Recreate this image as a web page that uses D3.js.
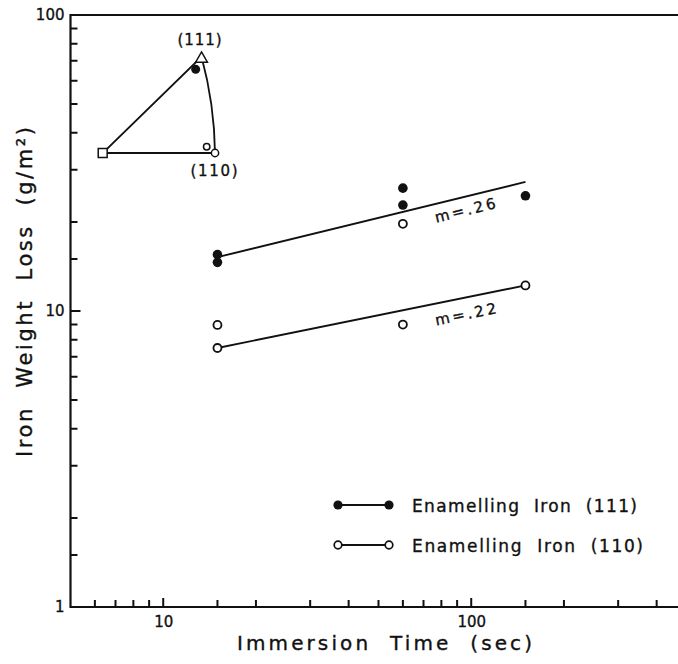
<!DOCTYPE html>
<html>
<head>
<meta charset="utf-8">
<script src="https://cdn.jsdelivr.net/npm/d3@7"></script>
<style>
	body { margin: 0; background: #fff; }
	svg text { font-family: "DejaVu Sans", sans-serif; fill: #111; stroke: #111; stroke-width: 0.35px; white-space: pre; }
</style>
</head>
<body>
<div id="wrapper"></div>
<script>
// Iron weight loss vs immersion time, log-log, two grain orientations

// Data
const times111 = [15, 15, 60, 60, 150]
const loss111 = [15.5, 14.6, 26.0, 22.8, 24.5]
const times110 = [15, 15, 60, 60, 150]
const loss110 = [8.97, 7.5, 19.7, 9.0, 12.2]

const fitTimes = [15, 150]
const fit111 = [15.2, 27.3]
const fit110 = [7.5, 12.2]
const slopeLabels = ["m=.26", "m=.22"]

const xMajorTicks = [10, 100]
const xMinorTicks = [6, 7, 8, 9, 15, 20, 30, 40, 50, 60, 70, 80, 90, 150, 200, 300, 400]
const yMajorTicks = [1, 10, 100]
const yMinorTicks = [1.5, 2, 3, 4, 5, 6, 7, 8, 9, 15, 20, 30, 40, 50, 60, 70, 80, 90]

const legendLabels = ["Enamelling  Iron  (111)", "Enamelling  Iron  (110)"]

// inset: standard triangle, unit coords (u to the right, v up)
const insetNames = ["(100)", "(110)", "(111)"]
const insetU = [0, 1, 0.88]
const insetV = [0, 0, 0.857]
const insetSampleU = [0.828, 0.926]   // (111) sample, (110) sample
const insetSampleV = [0.745, 0.056]
const insetArcCtrl = [0.995, 0.436]

function drawChart() {
	const dimensions = {
		width: 678,
		height: 664,
		margin: { top: 15, left: 70.5, bottom: 57 }
	}
	const decade = 308
	const x0 = dimensions.margin.left
	const yBottom = dimensions.height - dimensions.margin.bottom

	const svg = d3.select("#wrapper")
		.append("svg")
		.attr("width", dimensions.width)
		.attr("height", dimensions.height)

	// Scales
	const xScale = d3.scaleLog()
		.domain([5, 500])
		.range([x0, x0 + 2 * decade])

	const yScale = d3.scaleLog()
		.domain([1, 100])
		.range([yBottom, dimensions.margin.top])

	// Axes: labels from d3 axes, inward ticks drawn from the same scales
	const xAxis = d3.axisBottom(xScale)
		.tickValues(xMajorTicks)
		.tickFormat(d3.format("d"))
		.tickSize(0)
		.tickPadding(9)
	const yAxis = d3.axisLeft(yScale)
		.tickValues(yMajorTicks)
		.tickFormat(d3.format("d"))
		.tickSize(0)
		.tickPadding(6)

	const styleAxis = g => {
		g.select(".domain").remove()
		g.selectAll(".tick text")
			.style("font-family", "DejaVu Sans, sans-serif")
			.style("font-size", "15px")
			.attr("fill", "#111")
	}

	svg.append("g").attr("transform", `translate(0,${yBottom})`).call(xAxis).call(styleAxis)
	svg.append("g").attr("transform", `translate(${x0},0)`).call(yAxis).call(styleAxis)

	// inward tick marks as one path per axis
	const xTickPath = d3.path()
	xMajorTicks.concat(xMinorTicks).forEach(d => {
		xTickPath.moveTo(xScale(d), yBottom)
		xTickPath.lineTo(xScale(d), yBottom - (xMajorTicks.includes(d) ? 9 : 7))
	})
	const yTickPath = d3.path()
	yMajorTicks.concat(yMinorTicks).forEach(d => {
		yTickPath.moveTo(x0, yScale(d))
		yTickPath.lineTo(x0 + (yMajorTicks.includes(d) ? 10 : 7), yScale(d))
	})
	svg.append("path")
		.attr("d", xTickPath.toString() + yTickPath.toString())
		.attr("fill", "none")
		.attr("stroke", "#111")
		.attr("stroke-width", 2)

	// frame lines: bottom, left, top
	const frame = svg.append("g").attr("stroke", "#111").attr("stroke-width", 2.2)
	frame.append("line")
		.attr("x1", x0).attr("x2", xScale(500))
		.attr("y1", yBottom).attr("y2", yBottom)
	frame.append("line")
		.attr("x1", x0).attr("x2", x0)
		.attr("y1", yScale(100) - 1).attr("y2", yBottom + 1)
	frame.append("line")
		.attr("x1", x0).attr("x2", xScale(500))
		.attr("y1", yScale(100)).attr("y2", yScale(100))

	// Axis titles
	svg.append("text")
		.attr("x", 384.5)
		.attr("y", 650)
		.attr("text-anchor", "middle")
		.attr("textLength", 295)
		.attr("lengthAdjust", "spacing")
		.style("font-size", "20px")
		.text("Immersion  Time  (sec)")

	svg.append("text")
		.attr("transform", "translate(32,292) rotate(-90)")
		.attr("text-anchor", "middle")
		.attr("textLength", 330)
		.attr("lengthAdjust", "spacing")
		.style("font-size", "21px")
		.text("Iron  Weight  Loss  (g/m²)")

	// Fit lines
	const lineGen = d3.line()
		.x(d => xScale(d[0]))
		.y(d => yScale(d[1]))

	const fits = [fit111, fit110]
	fits.forEach(f => {
		svg.append("path")
			.datum(d3.zip(fitTimes, f))
			.attr("d", lineGen)
			.attr("fill", "none")
			.attr("stroke", "#111")
			.attr("stroke-width", 1.9)
	})

	// Slope labels, rotated along their lines
	const labelTime = 77
	const labelDrop = [19, 22]
	fits.forEach((f, i) => {
		const px1 = xScale(fitTimes[0]), py1 = yScale(f[0])
		const px2 = xScale(fitTimes[1]), py2 = yScale(f[1])
		const angle = Math.atan2(py2 - py1, px2 - px1) * 180 / Math.PI
		const slope = Math.log10(f[1] / f[0]) / Math.log10(fitTimes[1] / fitTimes[0])
		const yAt = f[0] * Math.pow(labelTime / fitTimes[0], slope)
		svg.append("text")
			.attr("transform", `translate(${xScale(labelTime)},${yScale(yAt) + labelDrop[i]}) rotate(${angle})`)
			.attr("textLength", 62)
			.attr("lengthAdjust", "spacing")
			.style("font-size", "15px")
			.text(slopeLabels[i])
	})

	// Points
	svg.append("g")
		.selectAll("circle")
		.data(d3.zip(times111, loss111))
		.join("circle")
		.attr("cx", d => xScale(d[0]))
		.attr("cy", d => yScale(d[1]))
		.attr("r", 4.8)
		.attr("fill", "#111")

	svg.append("g")
		.selectAll("circle")
		.data(d3.zip(times110, loss110))
		.join("circle")
		.attr("cx", d => xScale(d[0]))
		.attr("cy", d => yScale(d[1]))
		.attr("r", 4)
		.attr("fill", "#fff")
		.attr("stroke", "#111")
		.attr("stroke-width", 1.8)

	// Legend
	const legend = svg.append("g").attr("transform", "translate(338,505)")
	legendLabels.forEach((label, i) => {
		const row = legend.append("g").attr("transform", `translate(0,${i * 40})`)
		row.append("line")
			.attr("x1", 0).attr("x2", 51)
			.attr("stroke", "#111").attr("stroke-width", 1.9)
		row.selectAll("circle")
			.data([0, 51])
			.join("circle")
			.attr("cx", d => d)
			.attr("r", i === 0 ? 4.6 : 3.8)
			.attr("fill", i === 0 ? "#111" : "#fff")
			.attr("stroke", "#111")
			.attr("stroke-width", i === 0 ? 0 : 1.7)
		row.append("text")
			.attr("x", 74)
			.attr("y", 6.5)
			.attr("textLength", i === 0 ? 225 : 231)
			.attr("lengthAdjust", "spacing")
			.style("font-size", "17px")
			.text(label)
	})

	// Inset triangle
	const insetX = d3.scaleLinear().domain([0, 1]).range([102.7, 215])
	const insetY = d3.scaleLinear().domain([0, 1]).range([153, 40.7])
	const inset = svg.append("g")

	const p = d3.path()
	p.moveTo(insetX(insetU[1]), insetY(insetV[1]))
	p.lineTo(insetX(insetU[0]), insetY(insetV[0]))
	p.lineTo(insetX(insetU[2]), insetY(insetV[2]))
	p.quadraticCurveTo(insetX(insetArcCtrl[0]), insetY(insetArcCtrl[1]),
		insetX(insetU[1]), insetY(insetV[1]))
	inset.append("path")
		.attr("d", p.toString())
		.attr("fill", "none")
		.attr("stroke", "#111")
		.attr("stroke-width", 1.8)

	inset.append("circle")
		.attr("cx", insetX(insetSampleU[0]))
		.attr("cy", insetY(insetSampleV[0]))
		.attr("r", 4.5)
		.attr("fill", "#111")
	inset.append("circle")
		.attr("cx", insetX(insetSampleU[1]))
		.attr("cy", insetY(insetSampleV[1]))
		.attr("r", 3.2)
		.attr("fill", "#fff")
		.attr("stroke", "#111")
		.attr("stroke-width", 1.5)

	// corner markers
	const symbols = [d3.symbolSquare, d3.symbolCircle, d3.symbolTriangle]
	const sizes = [80, 42, 60]
	insetNames.forEach((name, i) => {
		inset.append("path")
			.attr("d", d3.symbol(symbols[i], sizes[i])())
			.attr("transform", `translate(${insetX(insetU[i])},${insetY(insetV[i]) + (i === 2 ? 2 : 0)})`)
			.attr("fill", "#fff")
			.attr("stroke", "#111")
			.attr("stroke-width", 1.5)
	})

	inset.append("text")
		.attr("x", insetX(insetU[2]) - 2)
		.attr("y", insetY(insetV[2]) - 12)
		.attr("text-anchor", "middle")
		.attr("textLength", 44)
		.attr("lengthAdjust", "spacing")
		.style("font-size", "15px")
		.text(insetNames[2])
	inset.append("text")
		.attr("x", insetX(insetU[1]) - 1)
		.attr("y", insetY(insetV[1]) + 23)
		.attr("text-anchor", "middle")
		.attr("textLength", 47)
		.attr("lengthAdjust", "spacing")
		.style("font-size", "15px")
		.text(insetNames[1])
}

drawChart()
</script>
</body>
</html>
